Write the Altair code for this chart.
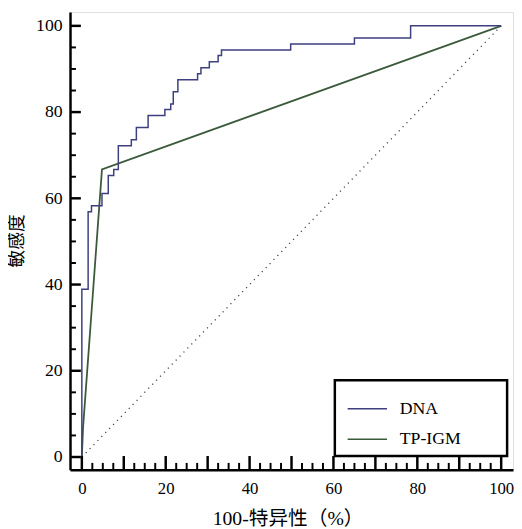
import altair as alt
import pandas as pd

# ---- data ----
dna_fpr = [0, 0, 1.5, 2.3, 4.8, 6.3, 7.6, 8.7, 11.8, 13.0, 15.8, 19.8, 21.2, 21.8,
           22.9, 27.6, 28.4, 30.4, 32.5, 33.3, 49.8, 65.0, 78.4, 100]
dna_tpr = [0, 38.9, 56.9, 58.3, 61.1, 65.3, 66.7, 72.2, 73.6, 76.4, 79.2, 80.6, 81.9, 84.7,
           87.5, 88.9, 90.3, 91.7, 93.1, 94.4, 95.8, 97.2, 100, 100]
igm_fpr = [0, 0.3, 4.8, 100]
igm_tpr = [0, 7.0, 66.7, 100]
diag_x = [0, 100]
diag_y = [0, 100]

x_labels = [0, 20, 40, 60, 80, 100]
y_labels = [0, 20, 40, 60, 80, 100]
x_major_ticks = [0, 10, 20, 30, 40, 50, 60, 70, 80, 90, 100]
x_minor_ticks = [2.5, 5, 7.5, 12.5, 15, 17.5, 22.5, 25, 27.5, 32.5, 35, 37.5, 42.5, 45, 47.5,
                 52.5, 55, 57.5, 62.5, 65, 67.5, 72.5, 75, 77.5, 82.5, 85, 87.5, 92.5, 95, 97.5]
y_major_ticks = [0, 20, 40, 60, 80, 100]
y_minor_ticks = [5, 10, 15, 25, 30, 35, 45, 50, 55, 65, 70, 75, 85, 90, 95]

series_names = ["DNA", "TP-IGM"]
series_colors = ["#3d3f7e", "#3b5a3b"]

W, H = 450, 465
SERIF = "Liberation Serif, Noto Sans CJK SC"

dna_df = pd.DataFrame({"fpr": dna_fpr, "tpr": dna_tpr, "series": "DNA",
                       "ord": list(range(len(dna_fpr)))})
igm_df = pd.DataFrame({"fpr": igm_fpr, "tpr": igm_tpr, "series": "TP-IGM",
                       "ord": list(range(len(igm_fpr)))})
diag_df = pd.DataFrame({"fpr": diag_x, "tpr": diag_y})

xscale = alt.Scale(domain=[-2.82, 102.82], nice=False, zero=False)
yscale = alt.Scale(domain=[-2.97, 103.2], nice=False, zero=False)

xaxis = alt.Axis(values=x_labels, ticks=False, tickSize=0, grid=False,
                 domainColor="black", domainWidth=2.5,
                 labelFont=SERIF, labelFontSize=17, labelColor="black", labelPadding=11,
                 labelFlush=False,
                 title="100-特异性（%）", titleFont=SERIF, titleFontSize=20,
                 titleFontWeight="normal", titleColor="black", titlePadding=13, titleX=221)
yaxis = alt.Axis(values=y_labels, ticks=False, tickSize=0, grid=False,
                 domainColor="black", domainWidth=2.5,
                 labelFont=SERIF, labelFontSize=18, labelColor="black", labelPadding=8,
                 labelFlush=False,
                 title="敏感度", titleFont=SERIF, titleFontSize=18,
                 titleFontWeight="normal", titleColor="black",
                 titleX=-53, titleY=232, titleBaseline="middle")


def X(field):
    return alt.X(field, type="quantitative", scale=xscale, axis=xaxis)


def Y(field):
    return alt.Y(field, type="quantitative", scale=yscale, axis=yaxis)


legend = alt.Legend(orient="none", legendX=269, legendY=374,
                    title=".", titleOrient="right", titleOpacity=0, titleFontSize=18,
                    titlePadding=33,
                    symbolType="stroke", symbolSize=1600, symbolStrokeWidth=1.5,
                    symbolOffset=4,
                    labelFont=SERIF, labelFontSize=18, labelColor="black", labelOffset=12,
                    padding=8, rowPadding=1, strokeColor="black")
color = alt.Color("series:N", scale=alt.Scale(domain=series_names, range=series_colors),
                  legend=legend)

diag = alt.Chart(diag_df).mark_line(color="#444444", strokeWidth=1.3,
                                    strokeDash=[1.2, 4.5]).encode(x=X("fpr"), y=Y("tpr"))
dna = alt.Chart(dna_df).mark_line(strokeWidth=1.5, interpolate="step-after").encode(
    x=X("fpr"), y=Y("tpr"), color=color, order="ord:Q")
igm = alt.Chart(igm_df).mark_line(strokeWidth=1.8).encode(
    x=X("fpr"), y=Y("tpr"), color=color, order="ord:Q")

xmaj = alt.Chart(pd.DataFrame({"v": x_major_ticks})).mark_rule(
    color="black", strokeWidth=2.5).encode(x=X("v"), y=alt.value(H), y2=alt.value(H - 14))
xmin = alt.Chart(pd.DataFrame({"v": x_minor_ticks})).mark_rule(
    color="black", strokeWidth=2).encode(x=X("v"), y=alt.value(H), y2=alt.value(H - 7))
ymaj = alt.Chart(pd.DataFrame({"v": y_major_ticks})).mark_rule(
    color="black", strokeWidth=2.5).encode(y=Y("v"), x=alt.value(0), x2=alt.value(11))
ymin = alt.Chart(pd.DataFrame({"v": y_minor_ticks})).mark_rule(
    color="black", strokeWidth=2).encode(y=Y("v"), x=alt.value(0), x2=alt.value(6))

chart = alt.layer(diag, igm, dna, xmaj, xmin, ymaj, ymin).properties(
    width=W, height=H,
    autosize=alt.AutoSizeParams(type="none"),
    padding={"left": 63, "top": 0, "right": 1, "bottom": 56},
).configure_view(stroke=None).configure(background="white").configure_legend(strokeWidth=2.5)

chart.save("out.html", embed_options={"renderer": "svg", "actions": False})
